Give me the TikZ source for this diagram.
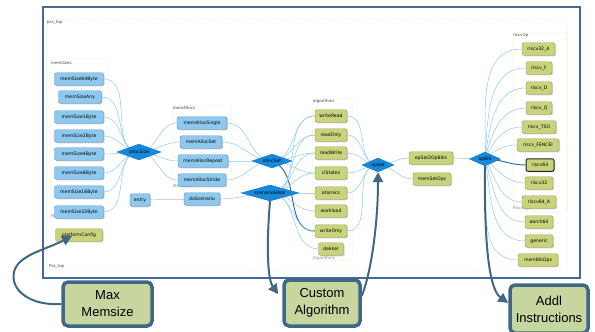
\documentclass[tikz,border=0pt]{standalone}
\usepackage{fontspec}
\setmainfont{DejaVu Sans}
\newfontfamily\callfont{Liberation Sans}
\usetikzlibrary{shapes.geometric,shadows,backgrounds,arrows.meta}

\definecolor{blueFill}{HTML}{8FC8EE}
\definecolor{blueLine}{HTML}{4C8CC4}
\definecolor{greenFill}{HTML}{C9D37C}
\definecolor{greenLine}{HTML}{8E9A48}
\definecolor{hubFill}{HTML}{1589DD}
\definecolor{edgeBlue}{HTML}{8CCAEA}
\definecolor{hotBlue}{HTML}{2B6FA8}
\definecolor{frameBlue}{HTML}{43699C}
\definecolor{callLine}{HTML}{3F6786}
\definecolor{callFill}{HTML}{C6D69E}
\definecolor{groupLine}{HTML}{DCD9A8}
\definecolor{entryLine}{HTML}{E3A6BE}

\newcommand\nodefont{\fontsize{4.6}{5}\selectfont}

\begin{document}
\begin{tikzpicture}[x=1pt,y=1pt]
		% Define styles for nodes, hubs, groups and callouts
		\tikzset{
			blk/.style={draw=blueLine, fill=blueFill, rounded corners=2pt, minimum height=12.5pt, inner sep=1pt, font=\nodefont,
				drop shadow={shadow xshift=1pt, shadow yshift=-1pt, opacity=0.35}},
			grn/.style={blk, draw=greenLine, fill=greenFill},
			hub/.style={diamond, aspect=3, draw=hubFill!85!black, fill=hubFill, inner sep=0pt, font=\nodefont},
			edge/.style={draw=edgeBlue, line width=0.5pt},
			hot/.style={draw=hotBlue, line width=1pt},
			grp/.style={draw=groupLine, densely dotted, rounded corners=2pt, line width=0.5pt},
			grplabel/.style={anchor=west, inner sep=0pt, font=\fontsize{4}{4.5}\selectfont, text=black!75},
			grpfoot/.style={grplabel, text=black!45},
			callbox/.style={draw=callLine, line width=3.5pt, fill=callFill, rounded corners=5pt, align=center,
				font=\callfont\fontsize{13}{17}\selectfont},
			callarrow/.style={draw=callLine, line width=2pt, -{Triangle[width=10pt,length=10pt]}}
		}
		\useasboundingbox (0,0) rectangle (595,-332);
		
		% Draw the outer frame and the group boxes
		\draw[frameBlue, line width=1.8pt] (43,-7) rectangle (580,-278);
		\draw[grp] (47,-19) rectangle (567,-270);
		\node[grplabel] at (47,-23) {pss\_top};
		\node[grplabel] at (49,-267) {Pss\_top};
		\draw[grp] (50,-58) rectangle (107,-218);
		\node[grplabel] at (51,-63) {memSizes};
		\node[grpfoot] at (51,-216) {MemSizes};
		\draw[grp] (173,-105) rectangle (231,-188);
		\node[grplabel] at (173,-108) {memAllocs};
		\node[grpfoot] at (173,-186) {MemAllocs};
		\draw[grp] (312,-98) rectangle (352,-260);
		\node[grplabel] at (313,-101) {algorithms};
		\node[grpfoot] at (313,-258) {Algorithms};
		\draw[grp] (513,-32) rectangle (567,-212);
		\node[grplabel] at (513,-35) {riscvOp};
		\node[grpfoot] at (513,-208) {RiscvOps};
		
		% Memory size nodes
		\node[blk, minimum width=49pt] (ms64) at (79,-79) {memSize64Byte};
		\node[blk, minimum width=43pt] (msAny) at (80,-97) {memSizeAny};
		\node[blk, minimum width=49pt] (ms1) at (79,-117) {memSize1Byte};
		\node[blk, minimum width=49pt] (ms2) at (79,-136) {memSize2Byte};
		\node[blk, minimum width=49pt] (ms4) at (79,-154) {memSize4Byte};
		\node[blk, minimum width=49pt] (ms8) at (79,-173) {memSize8Byte};
		\node[blk, minimum width=49pt] (ms16) at (79,-192) {memSize16Byte};
		\node[blk, minimum width=49pt] (ms32) at (79,-212) {memSize32Byte};
		\node[grn, minimum width=47pt] (platformConfig) at (79,-235) {platformConfig};
		
		% Allocation nodes and hubs
		\node[hub, aspect=2.75, minimum width=44pt, minimum height=16pt] (allocSize) at (139,-152) {allocSize};
		\node[blk, minimum width=20pt] (entry) at (140,-200) {entry};
		\node[blk, minimum width=50pt] (maSingle) at (202,-123) {memAllocSingle};
		\node[blk, minimum width=42pt] (maSet) at (201,-142) {memAllocSet};
		\node[blk, minimum width=50pt] (maRepeat) at (203,-161) {memAllocRepeat};
		\node[blk, minimum width=48pt] (maStride) at (202,-180) {memAllocStride};
		\node[blk, minimum width=36pt] (doScenario) at (202,-199) {doScenario};
		\node[hub, aspect=2.9, minimum width=40pt, minimum height=14pt] (allocSet) at (272,-161) {allocSet};
		\node[hub, aspect=3.6, minimum width=58pt, minimum height=16pt] (scenarioHook) at (270,-193) {scenarioHook};
		
		% Algorithm nodes
		\node[grn, minimum width=32pt] (algWriteRead) at (331,-116) {writeRead};
		\node[grn, minimum width=32pt] (algReadOnly) at (331,-135) {readOnly};
		\node[grn, minimum width=32pt] (algReadWrite) at (331,-153) {readWrite};
		\node[grn, minimum width=32pt] (algClStates) at (331,-173) {clStates};
		\node[grn, minimum width=32pt] (algAtomics) at (331,-193) {atomics};
		\node[grn, minimum width=32pt] (algWorkload) at (331,-211) {workload};
		\node[grn, minimum width=32pt] (algWriteOnly) at (331,-231) {writeOnly};
		\node[grn, minimum width=25pt] (algDekker) at (331,-249) {dekker};
		
		% Operation sets
		\node[hub, aspect=2.3, minimum width=32pt, minimum height=14pt] (opSet) at (378,-165) {opSet};
		\node[grn, minimum width=44pt] (opSet2OpBlks) at (431,-158) {opSet2OpBlks};
		\node[grn, minimum width=38pt] (memSetOps) at (432,-179) {memSetOps};
		\node[hub, aspect=2.2, minimum width=31pt, minimum height=14pt] (opBlk) at (485,-159) {opBlk};
		
		% Instruction nodes
		\node[grn, minimum width=33pt] (riscv32_A) at (538.5,-49) {riscv32\_A};
		\node[grn, minimum width=26pt] (riscv_F) at (539,-68) {riscv\_F};
		\node[grn, minimum width=26pt] (riscv_D) at (539,-88) {riscv\_D};
		\node[grn, minimum width=26pt] (riscv_Q) at (539,-108) {riscv\_Q};
		\node[grn, minimum width=34pt] (riscv_TSO) at (539,-127) {riscv\_TSO};
		\node[grn, minimum width=42pt] (riscv_FENCEI) at (538,-145) {riscv\_FENCEI};
		\node[grn, minimum width=28pt, draw=black!85, line width=1pt] (riscv64) at (540,-165) {riscv64};
		\node[grn, minimum width=28pt] (riscv32) at (539,-183) {riscv32};
		\node[grn, minimum width=34pt] (riscv64_A) at (539,-202) {riscv64\_A};
		\node[grn, minimum width=28pt] (aarch64) at (539,-222) {aarch64};
		\node[grn, minimum width=28pt] (generic) at (539,-241) {generic};
		\node[grn, minimum width=40pt] (memBlkOps) at (538,-260) {memBlkOps};
		
		% Draw the connectors behind the nodes
		\begin{scope}[on background layer]
			\foreach \n in {ms64,msAny,ms1,ms2,ms4,ms8,ms16,ms32}
				\draw[edge] (\n.east) to[out=0,in=180] (allocSize.center);
			\foreach \n in {maSingle,maSet,maRepeat,maStride}{
				\draw[edge] (allocSize.center) to[out=0,in=180] (\n.west);
				\draw[edge] (\n.east) to[out=0,in=180] (allocSet.center);
			}
			\draw[entryLine, line width=0.5pt] (entry) -- (doScenario);
			\draw[edge] (doScenario.east) to[out=0,in=180] (scenarioHook.center);
			\foreach \n in {algWriteRead,algReadOnly,algReadWrite,algClStates}
				\draw[edge] (allocSet.center) to[out=0,in=180] (\n.west);
			\draw[hot] (allocSet.center) to[out=-20,in=180] (algWriteOnly.west);
			\foreach \n in {algWriteRead,algReadOnly,algReadWrite,algClStates,algAtomics,algWorkload,algWriteOnly,algDekker}
				\draw[edge] (scenarioHook.center) to[out=0,in=180] (\n.west);
			\foreach \n in {algWriteRead,algReadOnly,algReadWrite,algClStates,algAtomics,algWriteOnly}
				\draw[edge] (\n.east) to[out=0,in=180] (opSet.center);
			\draw[edge] (opSet.center) to[out=0,in=180] (opSet2OpBlks.west);
			\draw[edge] (opSet.center) to[out=0,in=180] (memSetOps.west);
			\draw[edge] (opSet2OpBlks.east) -- (opBlk.center);
			\foreach \n/\a in {riscv32_A/88,riscv_F/86,riscv_D/82,riscv_Q/76,riscv_TSO/65,riscv_FENCEI/40,riscv32/-40,riscv64_A/-60,aarch64/-72,generic/-80,memBlkOps/-86}
				\draw[edge] (opBlk.center) to[out=\a,in=180] (\n.west);
			\draw[hot] (opBlk.center) to[out=0,in=180] (riscv64.west);
		\end{scope}
		
		% Callout boxes
		\node[callbox, minimum width=89pt, minimum height=44pt] (maxBox) at (107.5,-304) {Max\\Memsize};
		\node[callbox, minimum width=76pt, minimum height=46pt] (algBox) at (322,-303) {Custom\\Algorithm};
		\node[callbox, minimum width=78pt, minimum height=48pt] (addlBox) at (549,-309) {Addl\\Instructions};
		
		% Callout arrows
		\draw[callarrow] (maxBox.west) .. controls (30,-306) and (10,-290) .. (14,-272)
			.. controls (18,-255) and (45,-250) .. ([xshift=-7pt,yshift=-1pt]platformConfig.center);
		\draw[callarrow] (scenarioHook.south) .. controls (266,-250) and (268,-280) .. ([xshift=-4pt,yshift=-16pt]algBox.north west);
		\draw[callarrow] ([yshift=7pt]algBox.east) .. controls (372,-270) and (378,-220) .. (opSet.south);
		\draw[callarrow] (opBlk.south) .. controls (484,-250) and (490,-290) .. ([yshift=6pt]addlBox.west);
	\end{tikzpicture}
\end{document}
